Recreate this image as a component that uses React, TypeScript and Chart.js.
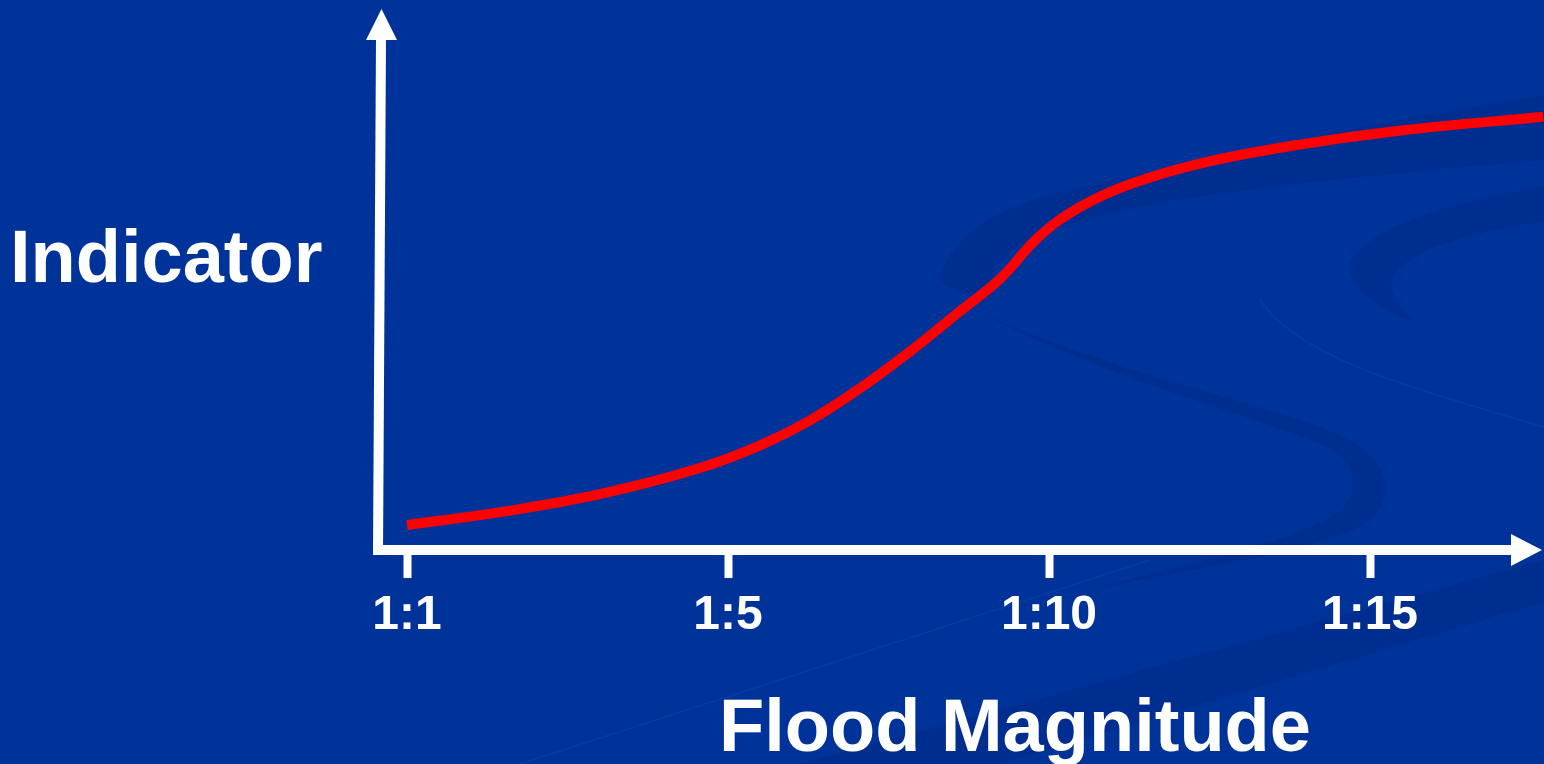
import { useEffect, useRef } from "react";
import { Chart, registerables } from "chart.js";

Chart.register(...registerables);

// ---- data ----
const tickLabels = ["1:1", "1:5", "1:10", "1:15"];
const tickPositions = [0, 1, 2, 3];
const curveX = [0, 0.29, 0.6, 0.91, 1.1, 1.255, 1.41, 1.57, 1.72, 1.85, 1.97, 2.1, 2.25, 2.47, 2.78, 3.09, 3.54];
const curveY = [5.0, 7.6, 11.2, 16.4, 21.0, 26.0, 32.4, 40.0, 47.8, 54.6, 63.0, 69.0, 73.4, 77.6, 81.4, 84.2, 87.0];
const yTitle = "Indicator";
const xTitle = "Flood Magnitude";

const FONT = "'Liberation Sans', Arial, sans-serif";
const BG = "#003399";

const decorPlugin = {
  id: "decor",
  beforeDraw(chart: any) {
    const { ctx, width, height } = chart;
    ctx.save();
    ctx.fillStyle = BG;
    ctx.fillRect(0, 0, width, height);
    ctx.fillStyle = "rgba(0,30,110,0.2)";
    // band A
    ctx.beginPath();
    ctx.moveTo(940, 283);
    ctx.bezierCurveTo(945, 240, 990, 210, 1060, 192);
    ctx.bezierCurveTo(1200, 160, 1380, 120, 1544, 95);
    ctx.lineTo(1544, 160);
    ctx.bezierCurveTo(1380, 175, 1200, 190, 1090, 218);
    ctx.bezierCurveTo(1020, 238, 985, 262, 992, 290);
    ctx.bezierCurveTo(995, 300, 975, 300, 940, 283);
    ctx.closePath();
    ctx.fill();
    // crescent B
    ctx.beginPath();
    ctx.moveTo(1544, 186);
    ctx.bezierCurveTo(1460, 200, 1370, 225, 1350, 262);
    ctx.bezierCurveTo(1345, 290, 1385, 312, 1420, 325);
    ctx.bezierCurveTo(1400, 310, 1385, 290, 1395, 275);
    ctx.bezierCurveTo(1410, 250, 1470, 232, 1544, 222);
    ctx.closePath();
    ctx.fill();
    // S band C
    ctx.beginPath();
    ctx.moveTo(965, 305);
    ctx.bezierCurveTo(1100, 372, 1290, 408, 1350, 440);
    ctx.bezierCurveTo(1398, 468, 1396, 512, 1350, 532);
    ctx.bezierCurveTo(1300, 552, 1200, 568, 1080, 592);
    ctx.bezierCurveTo(1200, 560, 1300, 540, 1338, 512);
    ctx.bezierCurveTo(1362, 494, 1360, 462, 1320, 444);
    ctx.bezierCurveTo(1250, 414, 1100, 378, 965, 305);
    ctx.closePath();
    ctx.fill();
    // bottom diagonal band
    ctx.beginPath();
    ctx.moveTo(1544, 560);
    ctx.lineTo(800, 764);
    ctx.lineTo(1000, 764);
    ctx.lineTo(1544, 602);
    ctx.closePath();
    ctx.fill();
    // faint thin lines
    ctx.strokeStyle = "rgba(60,100,200,0.15)";
    ctx.lineWidth = 1.5;
    ctx.beginPath();
    ctx.moveTo(520, 764);
    ctx.lineTo(1150, 560);
    ctx.stroke();
    ctx.beginPath();
    ctx.moveTo(1260, 300);
    ctx.bezierCurveTo(1300, 360, 1420, 390, 1544, 427);
    ctx.stroke();
    ctx.restore();
  },
  afterDraw(chart: any) {
    const { ctx, chartArea } = chart;
    const left = chartArea.left;
    const bottom = chartArea.bottom;
    ctx.save();
    ctx.fillStyle = "#ffffff";
    ctx.strokeStyle = "#ffffff";
    ctx.lineWidth = 10;
    ctx.lineCap = "butt";
    // y axis
    ctx.beginPath();
    ctx.moveTo(left - 2, bottom + 5);
    ctx.lineTo(left + 1, 38);
    ctx.stroke();
    ctx.beginPath();
    ctx.moveTo(left + 1.5, 9);
    ctx.lineTo(left + 17, 40);
    ctx.lineTo(left - 14, 40);
    ctx.closePath();
    ctx.fill();
    // x axis
    ctx.beginPath();
    ctx.moveTo(left - 7, bottom);
    ctx.lineTo(1513, bottom);
    ctx.stroke();
    ctx.beginPath();
    ctx.moveTo(1542, bottom);
    ctx.lineTo(1511, bottom - 16);
    ctx.lineTo(1511, bottom + 16);
    ctx.closePath();
    ctx.fill();
    // titles
    ctx.font = `bold 74px ${FONT}`;
    ctx.textBaseline = "alphabetic";
    ctx.textAlign = "left";
    ctx.fillText(yTitle, 10, 282);
    ctx.textAlign = "center";
    ctx.fillText(xTitle, 1015, 751);
    ctx.restore();
  },
};

export default function App() {
  const ref = useRef<HTMLCanvasElement | null>(null);
  useEffect(() => {
    if (!ref.current) return;
    const chart = new Chart(ref.current, {
      type: "line",
      data: {
        datasets: [
          {
            data: curveX.map((x, i) => ({ x, y: curveY[i] })),
            borderColor: "#ff0000",
            borderWidth: 10,
            borderCapStyle: "butt",
            pointRadius: 0,
            tension: 0.4,
            fill: false,
          },
        ],
      },
      options: {
        animation: false,
        responsive: false,
        layout: { padding: { left: 380, right: 0, top: 52, bottom: 110.4 } },
        plugins: { legend: { display: false }, tooltip: { enabled: false }, title: { display: false } },
        scales: {
          x: {
            type: "linear",
            min: -27 / 321,
            max: (1544 - 407) / 321,
            afterBuildTicks: (s: any) => {
              s.ticks = tickPositions.map((v) => ({ value: v }));
            },
            grid: {
              display: true,
              drawOnChartArea: false,
              drawTicks: true,
              tickLength: 28,
              tickWidth: 8,
              tickColor: "#ffffff",
            },
            border: { display: false },
            ticks: {
              color: "#ffffff",
              padding: 9,
              maxRotation: 0,
              autoSkip: false,
              font: { family: FONT, size: 48, weight: "bold" },
              callback: (_v: any, i: number) => tickLabels[i],
            },
          },
          y: { display: false, min: 0, max: 100 },
        },
      },
      plugins: [decorPlugin],
    } as any);
    return () => chart.destroy();
  }, []);
  return (
    <div style={{ position: "fixed", left: 0, top: 0, width: 1544, height: 764, background: BG, overflow: "hidden" }}>
      <canvas ref={ref} width={1544} height={764} style={{ display: "block", width: 1544, height: 764 }} />
    </div>
  );
}
